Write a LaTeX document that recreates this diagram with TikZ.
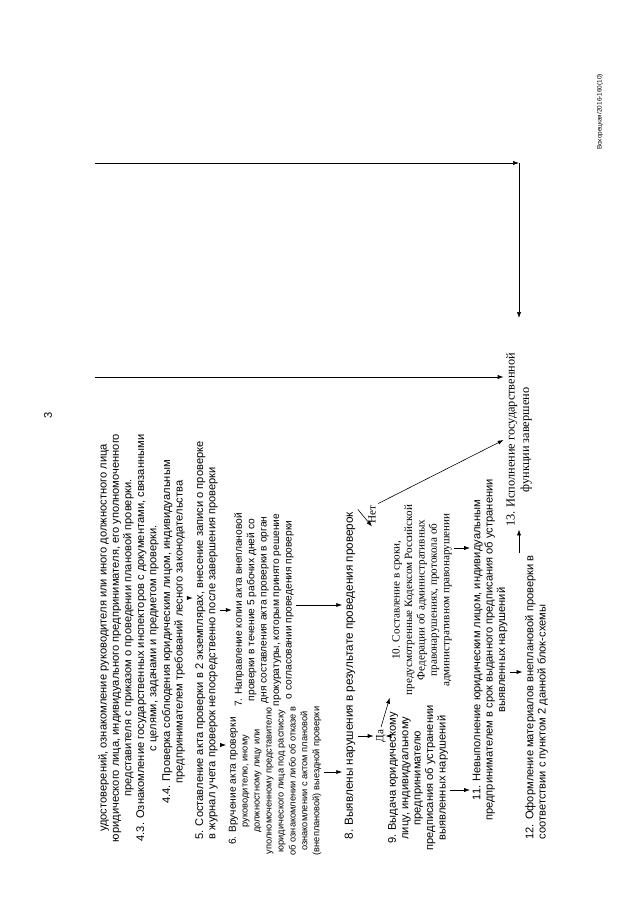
\documentclass[tikz,border=0pt]{standalone}
\usepackage{fontspec}
\setmainfont{Liberation Sans}
\newfontfamily\tnr{Liberation Serif}
\usetikzlibrary{arrows.meta}
\begin{document}
\begin{tikzpicture}[
  x=0.03cm, y=-0.03cm,
  every node/.style={rotate=90, inner sep=2pt, font=\fontsize{9.5}{10.6}\selectfont},
  txt/.style={align=center},
  ltxt/.style={align=left, anchor=west},
  small/.style={font=\fontsize{7.9}{10.2}\selectfont},
  serif/.style={font=\tnr\fontsize{9.5}{10.6}\selectfont},
  arr/.style={-{Latex[length=5pt,width=3.5pt]}, line width=0.5pt}
]
  \useasboundingbox (0,0) rectangle (640,905);
  \node (pg) at (48,415) {3};
  \node[font=\fontsize{5.5}{6}\selectfont] (ftr) at (600,112) {Вохорецкая/2016-160(10)};
  \node[txt] (n42) at (116,638) {удостоверений, ознакомление руководителя или иного должностного лица\\юридического лица, индивидуального предпринимателя, его уполномоченного\\представителя с приказом о проведении плановой проверки.};
  \node[txt] (n43) at (147.5,638) {4.3. Ознакомление государственных инспекторов с документами, связанными\\с целями, задачами и предметом проверки.};
  \node[txt] (n44) at (173.5,632) {4.4. Проверка соблюдения юридическим лицом, индивидуальным\\предпринимателем требований лесного законодательства};
  \node[ltxt] (n5) at (206.5,842) {5. Составление акта проверки в 2 экземплярах, внесение записи о проверке\\в журнал учета проверок непосредственно после завершения проверки};
  \node[txt, small] (n6) at (275,781) {{\fontsize{8.7}{10.2}\selectfont 6. Вручение акта проверки}\\руководителю, иному\\должностному лицу или\\уполномоченному представителю\\юридического лица под расписку\\об ознакомлении либо об отказе в\\ознакомлении с актом плановой\\(внеплановой) выездной проверки};
  \node[txt, font=\fontsize{8.7}{10.6}\selectfont] (n7) at (264,610) {7. Направление копии акта внеплановой\\проверки в течение 5 рабочих дней со\\дня составления акта проверки в орган\\прокуратуры, которым принято решение\\о согласовании проведения проверки};
  \node[ltxt, font=\fontsize{10}{10.6}\selectfont] (n8) at (350,842) {8. Выявлены нарушения в результате проведения проверок};
  \node[txt] (n9) at (418,778) {9. Выдача юридическому\\лицу, индивидуальному\\предпринимателю\\предписания об устранении\\выявленных нарушений};
  \node[txt, serif] (n10) at (422,600) {10. Составление в сроки,\\предусмотренные Кодексом Российской\\Федерации об административных\\правонарушениях, протокола об\\административном правонарушении};
  \node[txt] (n11) at (490,650) {11. Невыполнение юридическим лицом, индивидуальным\\предпринимателем в срок выданного предписания об устранении\\выявленных нарушений};
  \node[ltxt] (n12) at (536.5,842) {12. Оформление материалов внеплановой проверки в\\соответствии с пунктом 2 данной блок-схемы};
  \node[txt, font=\tnr\fontsize{10.5}{12.5}\selectfont] (n13) at (519,440) {13. Исполнение государственной\\функции завершено};
  \node[serif] (yes) at (381,736) {Да};
  \node[serif] (no) at (372,515) {Нет};
  % incoming lines
  \coordinate (inA) at (95,377);
  \coordinate (inB) at (95,163);
  \coordinate (cB) at (519,163);
  \draw[arr] (inA) -- (n13.north |- inA);
  \draw[arr] (inB) -- (cB);
  \draw[arr] (cB) -- (cB |- 0,318);
  % main flow
  \draw[arr] (n44.south |- 0,598) -- (n5.north |- 0,598);
  \draw[arr] (n5.south |- 0,745) -- (n6.north |- 0,745);
  \draw[arr] (n5.south |- 0,610) -- (n7.north |- 0,610);
  \draw[arr] (n6.south |- 0,772) -- (n8.north |- 0,772);
  \draw[arr] (n7.south |- 0,605) -- (n8.north |- 0,605);
  \draw[arr] (n8.south |- yes) -- (yes.north);
  \draw[arr] (yes.south) -- (n9.north |- yes);
  \draw[arr] (yes.east) -- (n10.north west);
  \draw[arr] (n8.south east) -- (no.west);
  \draw[arr] (no.south east) -- (n13.north);
  \draw[arr] (n9.south |- 0,790) -- (n11.north |- 0,790);
  \draw[arr] (n10.south |- 0,548) -- (n11.north |- 0,548);
  \draw[arr] (n11.south |- 0,672) -- (n12.north |- 0,672);
  \draw[arr] (n13.west |- n12.east) -- (n13.west);
\end{tikzpicture}
\end{document}
